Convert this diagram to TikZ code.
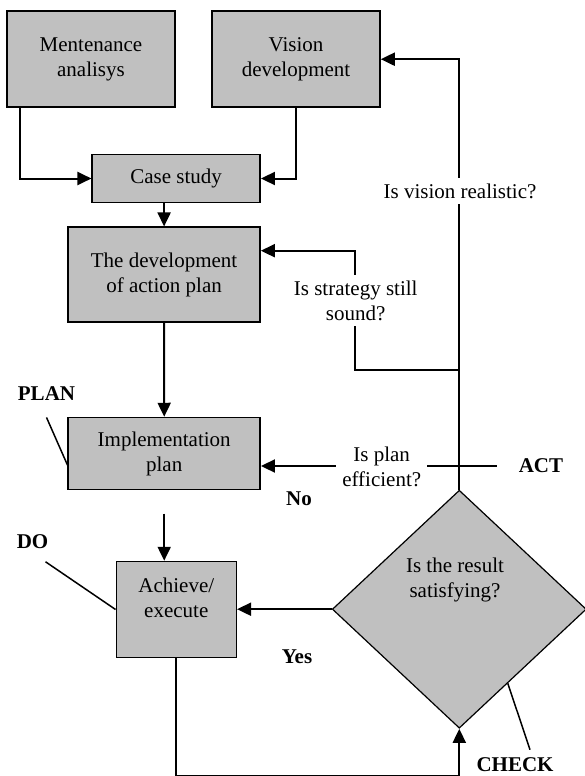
\documentclass[tikz,border=0pt]{standalone}
\usepackage{fontspec}
\setmainfont{Liberation Serif}
\usetikzlibrary{arrows.meta,shapes.geometric,calc}
\definecolor{boxgray}{RGB}{192,192,192}
\tikzset{
	box/.style={draw,fill=boxgray,line width=1.5pt,align=center,inner sep=0pt},
	arr/.style={-{Triangle[length=14pt,width=13pt]},line width=2pt},
	ln/.style={line width=1.5pt},
	ask/.style={fill=white,align=center,inner xsep=6pt,inner ysep=6pt},
	lbl/.style={font=\fontsize{21}{25}\selectfont\bfseries,inner sep=0pt}
}
\begin{document}
\begin{tikzpicture}[x=1pt,y=-1pt,font=\fontsize{21}{25}\selectfont]
		\useasboundingbox (0,0) rectangle (584,776);
		% boxes
		\node[box,minimum width=168pt,minimum height=96pt] (maint) at (91,59.2) {Mentenance\\analisys};
		\node[box,minimum width=168pt,minimum height=96pt] (vision) at (296,59.2) {Vision\\development};
		\node[box,minimum width=168pt,minimum height=48pt] (case) at (176.2,178.5) {Case study};
		\node[box,minimum width=192pt,minimum height=95pt] (devplan) at (164.1,274.7) {The development\\of action plan};
		\node[box,minimum width=192pt,minimum height=72pt] (impl) at (164.2,453.5) {Implementation\\plan};
		\node[box,minimum width=120pt,minimum height=96pt] (achieve) at (176.3,609.5) {};
		\node[align=center] (achievetxt) at (176.3,598) {Achieve/\\execute};
		\node[diamond,draw,fill=boxgray,line width=1.2pt,minimum width=254pt,minimum height=238pt,inner sep=0pt] (result) at (459.3,609.2) {};
		\node[align=center] (resulttxt) at (455,579.5) {Is the result\\satisfying?};
		
		\coordinate (sj) at (459.3,370);
		\coordinate (sk) at (354.5,250.7);
		\coordinate (pj) at (459.3,466);
		\coordinate (loopend) at (459.3,776);
		\coordinate (chk) at ($(result.south)!0.38!(result.east)$);
		
		% connectors
		\draw[arr] ([xshift=14pt]maint.south west) |- (case.west);
		\draw[arr] (vision.south) |- (case.east);
		\draw[arr] (case.south -| devplan.north) -- (devplan.north);
		\draw[arr] (devplan.south) -- (impl.north);
		\draw[arr] ([yshift=-23.4pt]impl.south) -- (impl.south |- achieve.north);
		\draw[arr] (result.west) -- (result.west -| achieve.east);
		\draw[arr] (achieve.south) |- (loopend) -- (result.south);
		\draw[arr] (result.north) |- (vision.east);
		\draw[arr] (sj) -| (sk) -- (sk -| devplan.east);
		\draw[arr] (pj) -- (pj -| impl.east);
		
		% PDCA labels
		\node[lbl] (plan) at (46.5,393.3) {PLAN};
		\node[lbl] (do) at (32.5,542) {DO};
		\node[lbl] (act) at (541,466) {ACT};
		\node[lbl] (check) at (515,765) {CHECK};
		\node[lbl] (no) at (299,499) {No};
		\node[lbl] (yes) at (297,657) {Yes};
		\draw[ln] ([yshift=-17pt]plan.south) -- ([yshift=-11.5pt]impl.west);
		\draw[ln] ([xshift=13pt,yshift=-12.5pt]do.south) -- (achieve.west);
		\draw[ln] (pj) -- ([xshift=-22pt]act.west);
		\draw[ln] (chk) -- ([xshift=15pt,yshift=8pt]check.north);
		
		% questions
		\node[ask] (qvision) at (460,191) {Is vision realistic?};
		\node[ask] (qstrategy) at (355.7,300.5) {Is strategy still\\sound?};
		\node[ask] (qplan) at (381.7,466.5) {Is plan\\efficient?};
\end{tikzpicture}
\end{document}
